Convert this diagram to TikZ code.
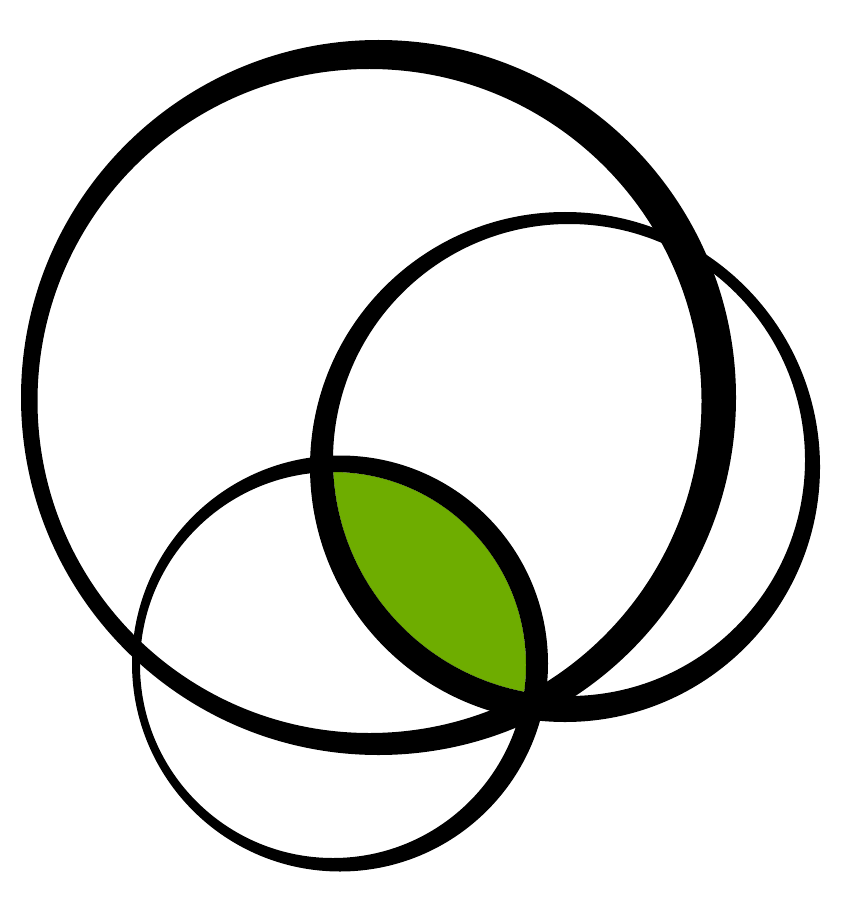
\documentclass[tikz,border=0pt]{standalone}
\usepackage{xcolor}
\usepackage{tikz}
\usetikzlibrary{backgrounds}
\definecolor{leafgreen}{RGB}{110,173,0}
\tikzset{
    ring/.style={
        fill=black,
        even odd rule
    },
    lens/.style={
        fill=leafgreen
    }
}
\begin{document}
\begin{tikzpicture}[x=0.02cm, y=-0.02cm]

% Canvas
\fill[white] (0,0) rectangle (840,915);
\useasboundingbox (0,0) rectangle (840,915);

% Centres (outer and inner edge of each ring)
\coordinate (big_out) at (378.5,397.5);
\coordinate (big_in) at (369.5,401);
\coordinate (right_out) at (565,467);
\coordinate (right_in) at (569,460);
\coordinate (low_out) at (340,663.5);
\coordinate (low_in) at (333,665);

% Green lens
\begin{scope}
\clip (right_in) circle (236);
\fill[lens] (low_in) circle (193);
\end{scope}

% Rings
\fill[ring] (big_out) circle (357.5) (big_in) circle (332);
\fill[ring] (right_out) circle (255) (right_in) circle (236);
\fill[ring] (low_out) circle (208) (low_in) circle (193);

\end{tikzpicture}
\end{document}
